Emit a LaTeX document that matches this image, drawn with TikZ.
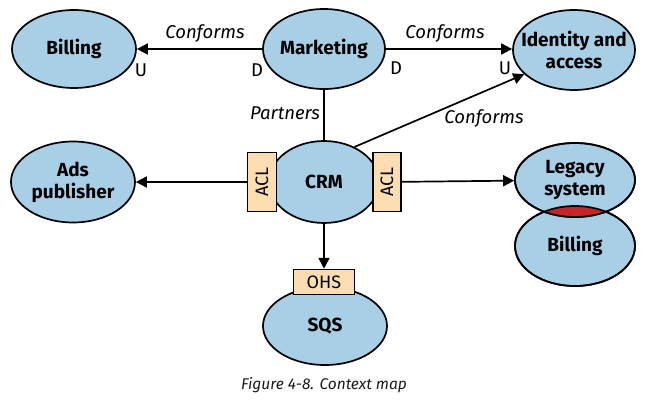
\documentclass[tikz,border=0pt]{standalone}
\usepackage{fontspec}
\setmainfont{Fira Sans}
\usetikzlibrary{shapes.geometric, arrows.meta}
\definecolor{ctxblue}{HTML}{A9CFE7}
\definecolor{aclpeach}{HTML}{FBDDB1}
\definecolor{lensred}{HTML}{C8242B}
\definecolor{capgray}{HTML}{1A1A1A}
\tikzset{
    >={Triangle[length=11pt,width=11pt]}, % filled arrow heads
    ctx/.style={ellipse, draw, line width=1.7pt, fill=ctxblue, inner sep=-12pt, align=center,
        font=\fontsize{19}{22}\selectfont\bfseries}, % bounded contexts
    layer/.style={draw, line width=1.5pt, fill=aclpeach, inner sep=0pt,
        font=\fontsize{18}{18}\selectfont}, % ACL / OHS boxes
    rel/.style={font=\fontsize{18.5}{18}\selectfont\itshape}, % relation text
    side/.style={font=\fontsize{18.5}{18}\selectfont}, % U / D marks
    link/.style={line width=1.7pt}
}
\begin{document}
\begin{tikzpicture}[x=1pt, y=-1pt]
    \useasboundingbox (0,0) rectangle (657,404);
    % Contexts
    \node[ctx, minimum width=124pt, minimum height=78pt] (B) at (74,49) {Billing};
    \node[ctx, minimum width=122pt, minimum height=80pt] (M) at (324,49) {Marketing};
    \node[ctx, minimum width=122pt, minimum height=80pt] (IA) at (574,50) {Identity and\\access};
    \node[ctx, minimum width=124pt, minimum height=81pt] (AP) at (73,182) {Ads\\publisher};
    \node[ctx, minimum width=110pt, minimum height=82pt] (CRM) at (324,182) {CRM};
    \node[ctx, minimum width=124pt, minimum height=78pt] (SQS) at (325,326) {SQS};
    \node[ctx, minimum width=120pt, minimum height=80pt] (LB) at (575,246) {Billing};
    \node[ctx, minimum width=120pt, minimum height=74pt] (LS) at (575,180) {Legacy\\system};

    % Shared kernel
    \begin{scope}
        \clip (LS.center) ellipse [x radius=60pt, y radius=37pt];
        \fill[lensred] (LB.center) ellipse [x radius=60pt, y radius=40pt];
    \end{scope}
    \draw[line width=1.7pt] (LS.center) ellipse [x radius=60pt, y radius=37pt];
    \draw[line width=1.7pt] (LB.center) ellipse [x radius=60pt, y radius=40pt];

    % Layers
    \node[layer, minimum width=59pt, minimum height=29pt, rotate=90] (ACL1) at (262,182) {ACL};
    \node[layer, minimum width=59pt, minimum height=28pt, rotate=90] (ACL2) at (387,182) {ACL};
    \node[layer, minimum width=61pt, minimum height=25pt] (OHS) at (324,282) {OHS};

    % Relations
    \draw[link, ->] (M) -- (B);
    \draw[link, ->] (M) -- (IA.west |- M);
    \draw[link] (M) -- (CRM);
    \draw[link, ->] (CRM.49) -- (IA.206);
    \draw[link, ->] (ACL1) -- (AP);
    \draw[link, ->] (ACL2) -- (LS);
    \draw[link, ->] (CRM) -- (OHS);

    % Labels
    \node[rel] (C1) at (205,34) {Conforms};
    \node[rel] (C2) at (445,34) {Conforms};
    \node[rel] (C3) at (484,119) {Conforms};
    \node[rel] (P) at (285,113) {Partners};
    \node[side] (U1) at (141,70) {U};
    \node[side] (D1) at (257,70) {D};
    \node[side] (D2) at (396,68) {D};
    \node[side] (U2) at (505,68) {U};

    % Caption
    \node[font=\fontsize{15.5}{15}\selectfont\itshape, text=capgray] (CAP) at (324,385) {Figure 4-8. Context map};
\end{tikzpicture}
\end{document}
